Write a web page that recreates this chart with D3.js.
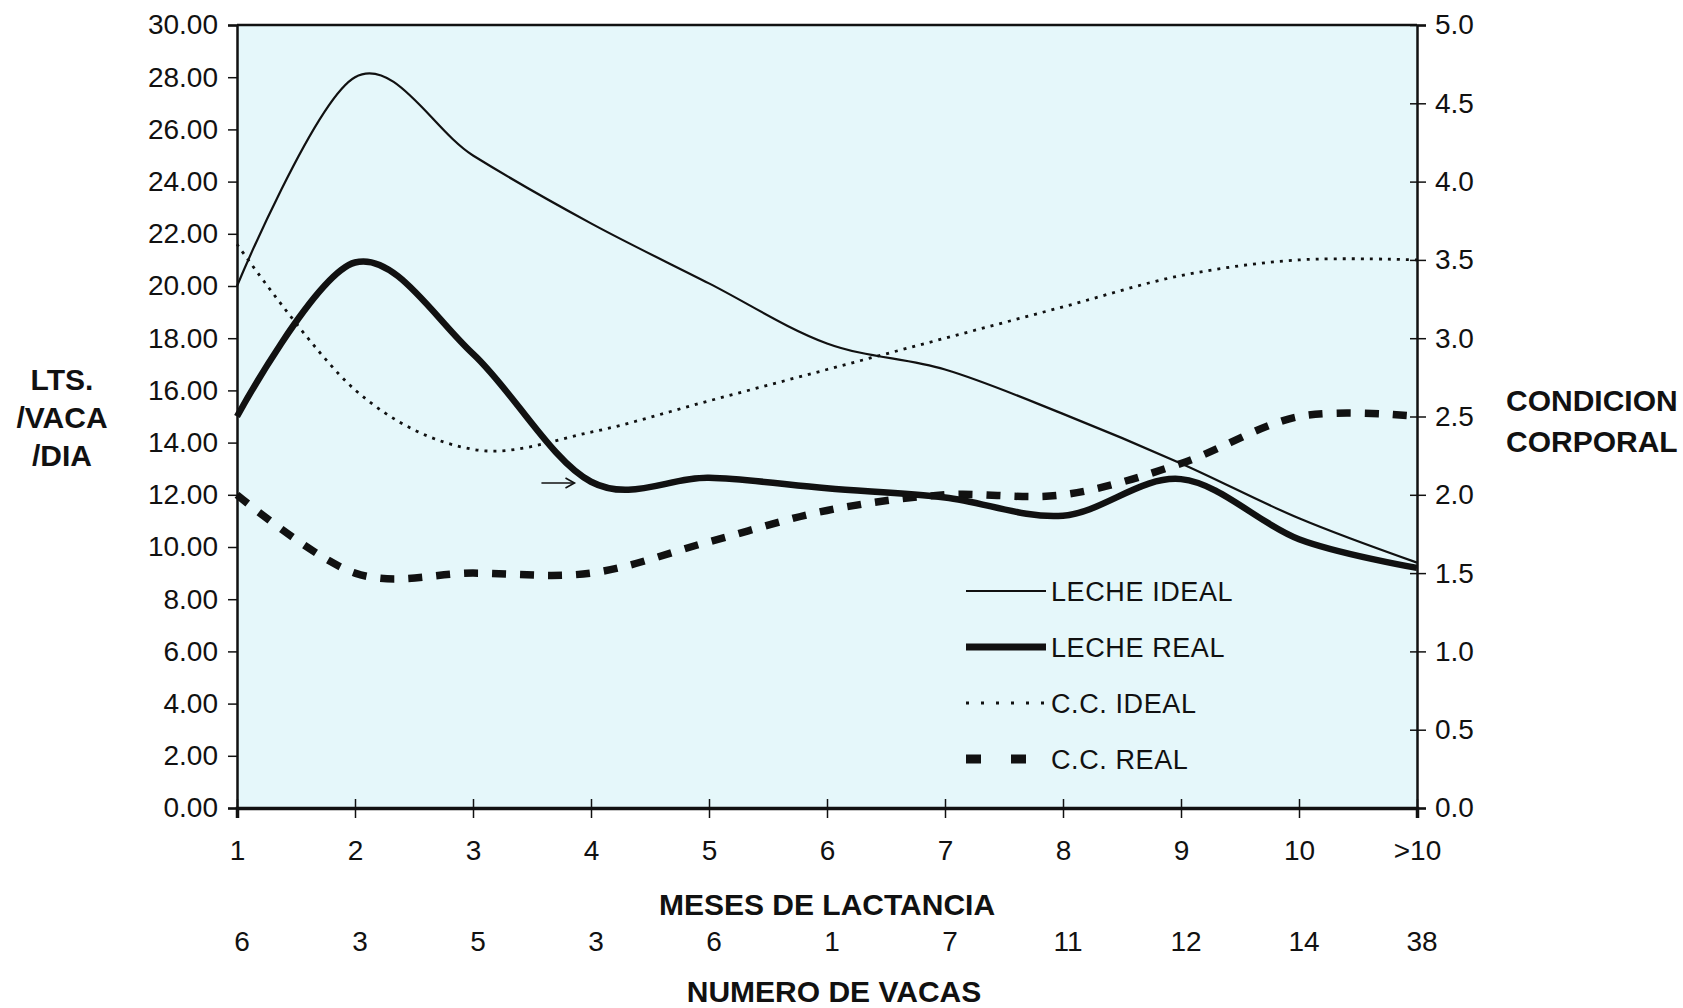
<!DOCTYPE html>
<html>
<head>
<meta charset="utf-8">
<script src="https://cdn.jsdelivr.net/npm/d3@7"></script>
<style>
  html, body { margin: 0; padding: 0; background: #ffffff; }
  svg { display: block; }
  text { font-family: "Liberation Sans", Arial, sans-serif; fill: #111; }
  .title { font-weight: bold; font-size: 30px; }
  .tick text { font-size: 28px; }
</style>
</head>
<body>
<svg id="chart" width="1683" height="1008"></svg>
<script>
// Months of lactation (x categories) and number of cows in each month
const months = ["1", "2", "3", "4", "5", "6", "7", "8", "9", "10", ">10"];
const cows = [6, 3, 5, 3, 6, 1, 7, 11, 12, 14, 38];

// Milk, litres / cow / day (left axis)
const lecheIdeal = [20.0, 28.0, 25.0, 22.4, 20.1, 17.8, 16.8, 15.1, 13.2, 11.1, 9.4];
const lecheReal  = [15.0, 20.9, 17.4, 12.5, 12.65, 12.25, 11.9, 11.2, 12.6, 10.3, 9.2];

// Body condition score (right axis)
const ccIdeal = [3.6, 2.67, 2.29, 2.4, 2.6, 2.8, 3.0, 3.2, 3.4, 3.5, 3.5];
const ccReal  = [2.0, 1.5, 1.5, 1.5, 1.7, 1.9, 2.0, 2.0, 2.2, 2.5, 2.5];

// Tick values for both vertical axes
const leftTicks = d3.range(0, 30.01, 2);
const rightTicks = d3.range(0, 5.01, 0.5);

const svg = d3.select("#chart");
const m = { left: 237, right: 1417, top: 25, bottom: 808 };

const x = d3.scalePoint().domain(months).range([m.left, m.right]).padding(0);
const xi = d3.scaleLinear().domain([0, months.length - 1]).range([m.left, m.right]);
const yL = d3.scaleLinear().domain([0, 30]).range([m.bottom, m.top]);
const yR = d3.scaleLinear().domain([0, 5]).range([m.bottom, m.top]);

// plot area
svg.append("rect")
  .attr("x", m.left).attr("y", m.top)
  .attr("width", m.right - m.left).attr("height", m.bottom - m.top)
  .attr("fill", "#e5f7fa");

// series
const curve = d3.curveCardinal.tension(0);
const lineL = d3.line().x((d, i) => x(months[i])).y(d => yL(d)).curve(curve);
const lineR = d3.line().x((d, i) => x(months[i])).y(d => yR(d)).curve(curve);

const g = svg.append("g").attr("fill", "none").attr("stroke", "#111");

g.append("path").attr("d", lineR(ccIdeal))
  .attr("stroke-width", 2.8).attr("stroke-dasharray", "3,6");
g.append("path").attr("d", lineR(ccReal))
  .attr("stroke-width", 7.5).attr("stroke-dasharray", "14,14");
g.append("path").attr("d", lineL(lecheIdeal))
  .attr("stroke-width", 2.2);
g.append("path").attr("d", lineL(lecheReal))
  .attr("stroke-width", 6.5);

// small arrow annotation
const ax0 = xi(2.58), ax1 = xi(2.86), ay = yL(12.45);
svg.append("line").attr("x1", ax0).attr("x2", ax1).attr("y1", ay).attr("y2", ay)
  .attr("stroke", "#111").attr("stroke-width", 1.6);
svg.append("path")
  .attr("d", `M${ax1 - 9},${ay - 5} L${ax1},${ay} L${ax1 - 9},${ay + 5}`)
  .attr("fill", "none").attr("stroke", "#111").attr("stroke-width", 1.6);

// frame
svg.append("line").attr("x1", m.left).attr("x2", m.right).attr("y1", m.top).attr("y2", m.top)
  .attr("stroke", "#111").attr("stroke-width", 2.5);

// left axis
const gl = svg.append("g").attr("transform", `translate(${m.left},0)`)
  .call(d3.axisLeft(yL).tickValues(leftTicks).tickFormat(d3.format(".2f")).tickSize(9).tickPadding(10));
gl.select(".domain").attr("stroke", "#111").attr("stroke-width", 2.5);
gl.selectAll(".tick line").attr("stroke", "#111").attr("stroke-width", 1.5);

// right axis
const gr = svg.append("g").attr("transform", `translate(${m.right},0)`)
  .call(d3.axisRight(yR).tickValues(rightTicks).tickFormat(d3.format(".1f")).tickSize(9).tickPadding(9));
gr.select(".domain").attr("stroke", "#111").attr("stroke-width", 2.5);
gr.selectAll(".tick line").attr("x1", -7).attr("stroke", "#111").attr("stroke-width", 1.5);

// bottom axis
const gb = svg.append("g").attr("transform", `translate(0,${m.bottom})`)
  .call(d3.axisBottom(x).tickSize(10).tickPadding(36));
gb.select(".domain").attr("stroke", "#111").attr("stroke-width", 3.5);
gb.selectAll(".tick line").attr("y1", -9).attr("stroke", "#111").attr("stroke-width", 1.5);
gb.selectAll(".tick text").attr("dy", "0.2em");

svg.selectAll(".tick text").style("font-family", "'Liberation Sans', Arial, sans-serif").attr("fill", "#111");

// cow counts row
svg.append("g").selectAll("text").data(cows).join("text")
  .attr("x", (d, i) => x(months[i]) + 5)
  .attr("y", 951)
  .attr("text-anchor", "middle")
  .attr("font-size", 28)
  .text(d => d);

// axis titles
svg.append("text").attr("class", "title").attr("x", 827).attr("y", 915)
  .attr("text-anchor", "middle").text("MESES DE LACTANCIA");
svg.append("text").attr("class", "title").attr("x", 834).attr("y", 1002)
  .attr("text-anchor", "middle").text("NUMERO DE VACAS");

const leftTitle = ["LTS.", "/VACA", "/DIA"];
svg.append("g").selectAll("text").data(leftTitle).join("text")
  .attr("class", "title")
  .attr("x", 62).attr("y", (d, i) => 390 + i * 38)
  .attr("text-anchor", "middle").text(d => d);

const rightTitle = ["CONDICION", "CORPORAL"];
svg.append("g").selectAll("text").data(rightTitle).join("text")
  .attr("class", "title")
  .attr("x", 1506).attr("y", (d, i) => 411 + i * 41)
  .text(d => d);

// legend
const legend = [
  { label: "LECHE IDEAL", w: 2.2, dash: null, len: 80 },
  { label: "LECHE REAL", w: 7, dash: null, len: 80 },
  { label: "C.C. IDEAL", w: 2.8, dash: "3,12", len: 80 },
  { label: "C.C. REAL", w: 9, dash: "15,30", len: 60 }
];
const lg = svg.append("g");
legend.forEach((d, i) => {
  const yy = 591 + i * 56;
  lg.append("line").attr("x1", 966).attr("x2", 966 + d.len).attr("y1", yy).attr("y2", yy)
    .attr("stroke", "#111").attr("stroke-width", d.w)
    .attr("stroke-dasharray", d.dash);
  lg.append("text").attr("x", 1051).attr("y", yy + 10).attr("font-size", 27)
    .attr("letter-spacing", 0.6).text(d.label);
});
</script>
</body>
</html>
